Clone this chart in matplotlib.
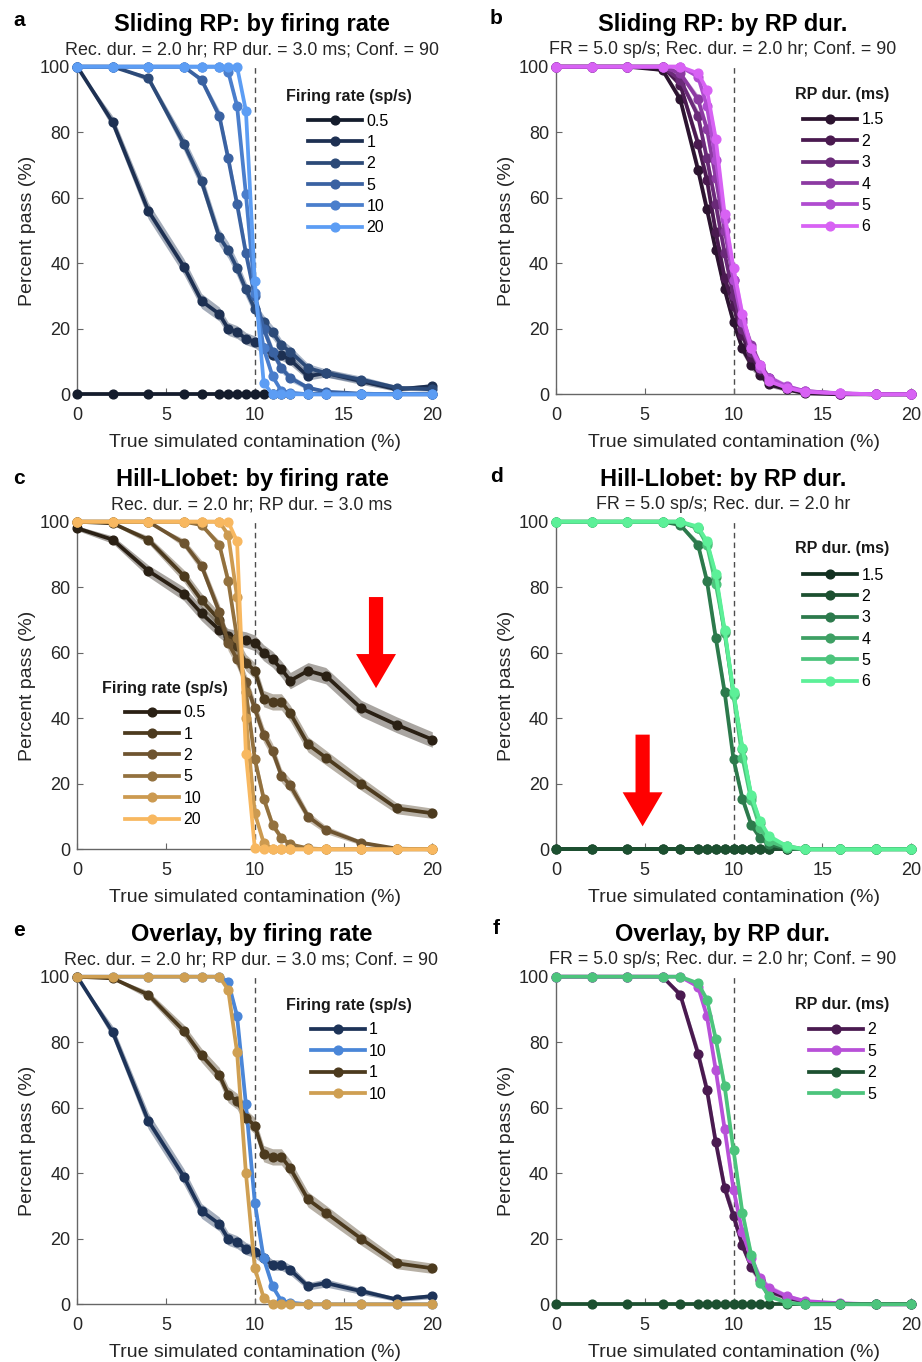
import numpy as np
import matplotlib
matplotlib.use("Agg")
import matplotlib.pyplot as plt
from matplotlib.patches import FancyArrow

plt.rcParams['font.family'] = ['Liberation Sans', 'DejaVu Sans']

# true simulated contamination (%)
x = [0, 2, 4, 6, 7, 8, 8.5, 9, 9.5, 10, 10.5, 11, 11.5, 12, 13, 14, 16, 18, 20]

# Sliding RP, by firing rate (RP 3 ms)
fr_labels = ['0.5', '1', '2', '5', '10', '20']
sr_fr05 = [0] * 19
sr_fr1 = [100, 83, 56, 39, 28.5, 24.5, 20, 19, 17, 16, 14, 12, 12, 10.5, 5.5, 6.5, 4, 1.5, 2.5]
sr_fr2 = [100, 100, 96.5, 76.5, 65, 48, 44, 38.5, 32, 26, 22, 19, 15, 13, 8, 6.5, 4.5, 2, 1.5]
sr_fr5 = [100, 100, 100, 100, 96, 85, 72, 58, 43, 30, 20, 13, 8, 5, 2, 0.8, 0.2, 0, 0]
sr_fr10 = [100, 100, 100, 100, 100, 100, 98.5, 88, 61, 31, 14, 5.5, 1, 0.5, 0, 0, 0, 0, 0]
sr_fr20 = [100, 100, 100, 100, 100, 100, 100, 100, 86.5, 34.5, 3.5, 0, 0, 0, 0, 0, 0, 0, 0]

# Sliding RP, by RP duration (FR 5 sp/s)
rp_labels = ['1.5', '2', '3', '4', '5', '6']
sr_rp15 = [100, 100, 100, 99, 90, 68.5, 56.5, 44, 32, 22, 14, 9, 6, 3, 1.5, 0.3, 0, 0, 0]
sr_rp2 = [100, 100, 100, 100, 94.5, 76.5, 65.5, 49.5, 35.5, 27, 18, 11.5, 7.5, 4, 2, 0.7, 0.2, 0, 0]
sr_rp3 = sr_fr5
sr_rp4 = [100, 100, 100, 100, 98, 90, 81, 66, 50, 35, 23, 15, 9, 5, 2, 1, 0.2, 0, 0]
sr_rp5 = [100, 100, 100, 100, 100, 97, 88, 71.5, 53.5, 35, 22, 14, 8, 5, 2.5, 1, 0.3, 0, 0]
sr_rp6 = [100, 100, 100, 100, 100, 98, 93, 78, 55, 38.5, 24.5, 14, 9, 4, 2, 0.8, 0.3, 0, 0]

# Hill-Llobet, by firing rate (RP 3 ms)
hl_fr05 = [98, 94.5, 85, 78, 72, 67, 65, 64.5, 64, 63, 60, 58, 55, 51.5, 54.5, 53, 43, 38, 33.5]
hl_fr1 = [100, 99.5, 94.5, 83.5, 76, 70, 64, 62, 57, 54.5, 46, 45, 45, 41.5, 32, 28, 20, 12.5, 11]
hl_fr2 = [100, 100, 100, 93.5, 86.5, 72.5, 63, 58, 51, 43, 35, 30, 22.5, 19.5, 10, 6, 2, 0.2, 0]
hl_fr5 = [100, 100, 100, 100, 99, 93, 82, 64.5, 48, 27.5, 15.5, 7.5, 3.5, 1.5, 0.3, 0, 0, 0, 0]
hl_fr10 = [100, 100, 100, 100, 100, 100, 96, 77, 40, 11, 2, 0, 0, 0, 0, 0, 0, 0, 0]
hl_fr20 = [100, 100, 100, 100, 100, 100, 100, 94, 29, 0.3, 0, 0, 0, 0, 0, 0, 0, 0, 0]

# Hill-Llobet, by RP duration (FR 5 sp/s)
hl_rp15 = [0] * 19
hl_rp2 = [0] * 19
hl_rp3 = hl_fr5
hl_rp4 = [100, 100, 100, 100, 100, 98, 93.5, 83, 66, 47.5, 30.5, 16, 8, 3.5, 1, 0, 0, 0, 0]
hl_rp5 = [100, 100, 100, 100, 100, 98, 93, 81, 66.5, 47, 28, 15, 6.5, 2.5, 0.5, 0, 0, 0, 0]
hl_rp6 = [100, 100, 100, 100, 100, 98.5, 94, 84, 67, 48, 31, 16.5, 8.5, 4, 1, 0, 0, 0, 0]

blues = ['#141c2c', '#1d3052', '#2c4a78', '#3a62a2', '#4a7ecc', '#5c9df4']
purples = ['#2c1430', '#4a1a50', '#6a2a78', '#8c3aa2', '#b04cd0', '#d862f4']
browns = ['#2a2014', '#4c3a1e', '#6e5430', '#93713e', '#cc9a50', '#f8b860']
greens = ['#123020', '#1c5030', '#2c7a4c', '#3ea064', '#4cc47c', '#5cf098']

N_SIM = 400  # simulated units per point, for the shaded error band

fig = plt.figure(figsize=(9.22, 13.62), dpi=100)

W, H = 922, 1362
col_left = [77.3, 556]
row_bottom = [394.3, 849.3, 1304.3]
aw, ah = 355, 327.6


def make_ax(row, col):
    return fig.add_axes([col_left[col] / W, 1 - row_bottom[row] / H, aw / W, ah / H])


def panel(ax, series, colors, labels, title, subtitle, leg_title, leg_px, tx):
    for y, c in zip(series, colors):
        y = np.array(y, dtype=float)
        se = np.sqrt(y * (100 - y) / N_SIM)
        ax.fill_between(x, y - se, y + se, color=c, alpha=0.4, lw=0, zorder=2)
    for y, c, lab in zip(series, colors, labels):
        ax.plot(x, y, '-o', color=c, lw=2.7, ms=6.3, label=lab, clip_on=False, zorder=3)
    ax.axvline(10, ls=(0, (4, 3)), color='0.3', lw=1, zorder=1)
    ax.set_xlim(0, 20)
    ax.set_ylim(0, 100)
    ax.set_xticks([0, 5, 10, 15, 20])
    ax.set_yticks([0, 20, 40, 60, 80, 100])
    for s in ['top', 'right']:
        ax.spines[s].set_visible(False)
    for s in ['left', 'bottom']:
        ax.spines[s].set_color('0.4')
        ax.spines[s].set_linewidth(1)
    ax.tick_params(direction='in', length=4, color='0.4', labelsize=13,
                   labelcolor='#262626')
    ax.tick_params(axis='x', pad=9)
    ax.tick_params(axis='y', pad=5)
    ax.set_xlabel('True simulated contamination (%)', fontsize=14, color='#262626')
    ax.set_ylabel('Percent pass (%)', fontsize=14, color='#262626')
    ax.xaxis.set_label_coords(0.5, -0.12)
    ax.yaxis.set_label_coords(-0.115, 0.5)
    ax.text(tx, 1.130, title, transform=ax.transAxes, ha='center', va='center',
            fontsize=17, fontweight='bold')
    ax.text(tx, 1.051, subtitle, transform=ax.transAxes, ha='center', va='center',
            fontsize=12.9, color='#262626')
    # legend title placed by hand, entries below it
    tcx, tcy, hx, hy = leg_px
    fig.text(tcx / W, 1 - tcy / H, leg_title, ha='center', va='center',
             fontsize=11.5, fontweight='bold', color='#1a1a1a')
    ax.legend(loc='upper left', bbox_to_anchor=(hx / W, 1 - (hy - 7.5) / H),
              bbox_transform=fig.transFigure, frameon=False, fontsize=11.5,
              handlelength=3.4, handletextpad=0.25, labelspacing=0.4,
              borderpad=0, borderaxespad=0)


sub_a = 'Rec. dur. = 2.0 hr; RP dur. = 3.0 ms; Conf. = 90'
sub_b = 'FR = 5.0 sp/s; Rec. dur. = 2.0 hr; Conf. = 90'

ax_a = make_ax(0, 0)
panel(ax_a, [sr_fr05, sr_fr1, sr_fr2, sr_fr5, sr_fr10, sr_fr20], blues, fr_labels,
      'Sliding RP: by firing rate', sub_a, 'Firing rate (sp/s)', (349, 96, 308, 121), 0.492)

ax_b = make_ax(0, 1)
panel(ax_b, [sr_rp15, sr_rp2, sr_rp3, sr_rp4, sr_rp5, sr_rp6], purples, rp_labels,
      'Sliding RP: by RP dur.', sub_b, 'RP dur. (ms)', (842.5, 95, 803, 120), 0.47)

ax_c = make_ax(1, 0)
panel(ax_c, [hl_fr05, hl_fr1, hl_fr2, hl_fr5, hl_fr10, hl_fr20], browns, fr_labels,
      'Hill-Llobet: by firing rate', 'Rec. dur. = 2.0 hr; RP dur. = 3.0 ms',
      'Firing rate (sp/s)', (165, 688, 125, 712.7), 0.492)
ax_c.add_patch(FancyArrow(16.83, 77, 0, -27.8, width=0.8, head_width=2.25,
                          head_length=10.4, length_includes_head=True,
                          color='#ff0000', lw=0, zorder=5))

ax_d = make_ax(1, 1)
panel(ax_d, [hl_rp15, hl_rp2, hl_rp3, hl_rp4, hl_rp5, hl_rp6], greens, rp_labels,
      'Hill-Llobet: by RP dur.', 'FR = 5.0 sp/s; Rec. dur. = 2.0 hr',
      'RP dur. (ms)', (842.5, 549, 803, 575), 0.47)
ax_d.add_patch(FancyArrow(4.88, 35, 0, -28, width=0.8, head_width=2.25,
                          head_length=10.4, length_includes_head=True,
                          color='#ff0000', lw=0, zorder=5))

ax_e = make_ax(2, 0)
panel(ax_e, [sr_fr1, sr_fr10, hl_fr1, hl_fr10],
      ['#1d3358', '#4a86d8', '#4c3a1e', '#cf9f52'], ['1', '10', '1', '10'],
      'Overlay, by firing rate', sub_a, 'Firing rate (sp/s)', (349, 1005.7, 310.7, 1030), 0.49)

ax_f = make_ax(2, 1)
panel(ax_f, [sr_rp2, sr_rp5, hl_rp2, hl_rp5],
      ['#4a1a50', '#b850d8', '#1c5030', '#4cc47c'], ['2', '5', '2', '5'],
      'Overlay, by RP dur.', sub_b, 'RP dur. (ms)', (842.5, 1004, 809, 1030), 0.47)

for lab, px, py in [('a', 13, 20), ('b', 490, 19), ('c', 13, 479),
                    ('d', 490, 477), ('e', 13, 931), ('f', 493, 928)]:
    fig.text(px / W, 1 - py / H, lab, fontsize=15, fontweight='bold',
             ha='left', va='center')

fig.savefig('out.png', dpi=100)
